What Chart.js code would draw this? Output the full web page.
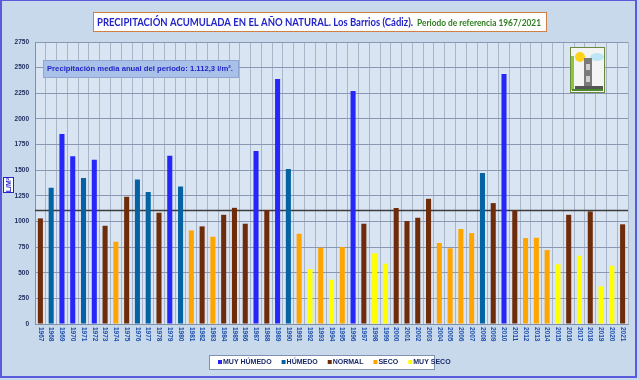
<!DOCTYPE html>
<html>
<head>
<meta charset="utf-8">
<script src="https://cdn.jsdelivr.net/npm/chart.js@4/dist/chart.umd.min.js"></script>
<style>
  html, body { margin: 0; padding: 0; background: #ffffff; }
  #wrap { width: 639px; height: 380px; }
</style>
</head>
<body>
<div id="wrap"><canvas id="chart" width="639" height="380"></canvas></div>
<script>
// años (etiquetas del eje X)
const years = [
  "1967","1968","1969","1970","1971","1972","1973","1974","1975","1976",
  "1977","1978","1979","1980","1981","1982","1983","1984","1985","1986",
  "1987","1988","1989","1990","1991","1992","1993","1994","1995","1996",
  "1997","1998","1999","2000","2001","2002","2003","2004","2005","2006",
  "2007","2008","2009","2010","2011","2012","2013","2014","2015","2016",
  "2017","2018","2019","2020","2021"
];

// precipitación anual en l/m2
const precip = [
  1030, 1329, 1852, 1637, 1423, 1602,  958,  802, 1241, 1410,
  1287, 1085, 1641, 1342,  913,  952,  851, 1065, 1133,  978,
  1686, 1111, 2388, 1511,  880,  536,  744,  432,  750, 2271,
   978,  689,  588, 1131, 1004, 1036, 1221,  790,  738,  926,
   887, 1472, 1179, 2437, 1108,  838,  841,  721,  582, 1065,
   666, 1098,  367,  568,  972
];

// clase de cada año: 0 muy húmedo, 1 húmedo, 2 normal, 3 seco, 4 muy seco
const clase = [
  2, 1, 0, 0, 1, 0, 2, 3, 2, 1,
  1, 2, 0, 1, 3, 2, 3, 2, 2, 2,
  0, 2, 0, 1, 3, 4, 3, 4, 3, 0,
  2, 4, 4, 2, 2, 2, 2, 3, 3, 3,
  3, 1, 2, 0, 2, 3, 3, 3, 4, 2,
  4, 2, 4, 4, 2
];

const classNames = ["MUY HÚMEDO", "HÚMEDO", "NORMAL", "SECO", "MUY SECO"];
const classColors = ["#2626F8", "#0563A3", "#6E2C0A", "#FFA500", "#FFFF00"];

const media = 1112.3;
const yMax = 2750;
const yStep = 250;

const datasets = classNames.map((name, i) => ({
  label: name,
  data: precip.map((v, j) => clase[j] === i ? v : null),
  backgroundColor: classColors[i],
  borderWidth: 0,
  categoryPercentage: 1,
  barPercentage: 0.47
}));

// escribe un texto ajustado a un ancho dado
function textoAncho(ctx, txt, x, y, ancho) {
  const w = ctx.measureText(txt).width;
  ctx.save();
  ctx.translate(x, y);
  ctx.scale(ancho / w, 1);
  ctx.fillText(txt, 0, 0);
  ctx.restore();
}

// fondo, marco y línea de la media
const fondo = {
  id: "fondo",
  beforeDraw(chart) {
    const ctx = chart.ctx;
    const a = chart.chartArea;
    ctx.save();
    ctx.fillStyle = "#C9D9EC";
    ctx.fillRect(0, 0, chart.width, chart.height);
    ctx.fillStyle = "#D9E5F3";
    ctx.fillRect(a.left, a.top, a.right - a.left, a.bottom - a.top);
    ctx.strokeStyle = "#5A5ADC";
    ctx.lineWidth = 2;
    ctx.strokeRect(1, 0, 635, 377);
    ctx.restore();
  },
  beforeDatasetsDraw(chart) {
    const ctx = chart.ctx;
    const a = chart.chartArea;
    const y = Math.round(chart.scales.y.getPixelForValue(media)) + 0.5;
    ctx.save();
    ctx.strokeStyle = "#3C3C3C";
    ctx.lineWidth = 1.3;
    ctx.beginPath();
    ctx.moveTo(a.left, y);
    ctx.lineTo(a.right, y);
    ctx.stroke();
    ctx.restore();
  }
};

// textos, cajas, leyenda y logo
const adornos = {
  id: "adornos",
  afterDraw(chart) {
    const ctx = chart.ctx;
    const a = chart.chartArea;
    const xs = chart.scales.x;
    ctx.save();

    // etiquetas del eje X giradas
    ctx.fillStyle = "#1E4FA8";
    ctx.font = "bold 6.5px 'Liberation Sans', Arial, sans-serif";
    ctx.textAlign = "left";
    ctx.textBaseline = "middle";
    years.forEach((yr, i) => {
      const x = xs.getPixelForValue(i);
      ctx.save();
      ctx.translate(x, a.bottom + 3);
      ctx.rotate(Math.PI / 2);
      ctx.fillText(yr, 0, 0);
      ctx.restore();
    });

    // título
    ctx.fillStyle = "#FFFFFF";
    ctx.fillRect(93, 12, 453, 19);
    ctx.strokeStyle = "#D08040";
    ctx.lineWidth = 1;
    ctx.strokeRect(93.5, 12.5, 453, 19);
    ctx.textBaseline = "middle";
    ctx.fillStyle = "#2424C8";
    ctx.font = "bold 12px Lato, 'Open Sans', sans-serif";
    textoAncho(ctx, "PRECIPITACIÓN ACUMULADA EN EL AÑO NATURAL. Los Barrios (Cádiz).", 97, 22, 316);
    ctx.fillStyle = "#2E7D1E";
    ctx.font = "bold 8.5px Lato, 'Open Sans', sans-serif";
    textoAncho(ctx, "Periodo de referencia 1967/2021", 417, 23, 124);

    // caja de la media
    ctx.fillStyle = "#A9C1E8";
    ctx.fillRect(43, 60, 195, 17);
    ctx.strokeStyle = "#8FA6D0";
    ctx.strokeRect(43.5, 60.5, 195, 17);
    ctx.fillStyle = "#2424C8";
    ctx.font = "bold 8px 'Liberation Sans', Arial, sans-serif";
    textoAncho(ctx, "Precipitación media anual del periodo: 1.112,3 l/m².", 47, 69, 186);

    // título eje Y
    ctx.fillStyle = "#FFFFFF";
    ctx.fillRect(3, 177, 11, 16);
    ctx.strokeStyle = "#2424C8";
    ctx.strokeRect(3.5, 177.5, 10, 15);
    ctx.save();
    ctx.translate(9, 185);
    ctx.rotate(-Math.PI / 2);
    ctx.textAlign = "center";
    ctx.fillStyle = "#2424C8";
    ctx.font = "bold 7px 'Liberation Sans', Arial, sans-serif";
    ctx.fillText("L/M²", 0, 0);
    ctx.restore();

    // leyenda
    ctx.fillStyle = "#FFFFFF";
    ctx.fillRect(209, 355, 225, 14);
    ctx.strokeStyle = "#8090B0";
    ctx.strokeRect(209.5, 355.5, 225, 14);
    ctx.font = "bold 7px 'Liberation Sans', Arial, sans-serif";
    ctx.textAlign = "left";
    let lx = 218;
    classNames.forEach((n, i) => {
      ctx.fillStyle = classColors[i];
      ctx.fillRect(lx, 360, 4, 4);
      ctx.fillStyle = "#1A2A6A";
      ctx.fillText(n, lx + 5, 362.5);
      lx += 5 + ctx.measureText(n).width + 10;
    });

    // logo (aproximado)
    ctx.fillStyle = "#F4F4F4";
    ctx.fillRect(570, 47, 34, 45);
    ctx.strokeStyle = "#6A8A3A";
    ctx.strokeRect(570.5, 47.5, 34, 45);
    ctx.fillStyle = "#8CC63F";
    ctx.fillRect(571, 56, 3, 34);
    ctx.fillStyle = "#BFE6F5";
    ctx.beginPath();
    ctx.ellipse(597, 57, 7, 4, 0, 0, Math.PI * 2);
    ctx.fill();
    ctx.fillStyle = "#FFD21A";
    ctx.beginPath();
    ctx.arc(580, 57, 5, 0, Math.PI * 2);
    ctx.fill();
    ctx.fillStyle = "#7A7A7A";
    ctx.fillRect(584, 58, 8, 30);
    ctx.fillStyle = "#CFCFCF";
    ctx.fillRect(586, 64, 4, 6);
    ctx.fillRect(586, 76, 4, 6);
    ctx.fillStyle = "#555555";
    ctx.fillRect(575, 86, 28, 3);
    ctx.fillStyle = "#4A8A2A";
    ctx.fillRect(572, 89, 31, 2);

    ctx.restore();
  }
};

new Chart(document.getElementById("chart"), {
  type: "bar",
  data: { labels: years, datasets: datasets },
  options: {
    responsive: false,
    animation: false,
    devicePixelRatio: 1,
    layout: { padding: { top: 42, right: 11, left: 0, bottom: 36 } },
    plugins: {
      legend: { display: false },
      tooltip: { enabled: false }
    },
    scales: {
      x: {
        stacked: true,
        grid: { color: "#A9B5C9", lineWidth: 1, offset: true, drawTicks: false },
        border: { color: "#8090A8" },
        ticks: { display: false },
        afterFit(s) { s.height = 20; }
      },
      y: {
        stacked: true,
        min: 0,
        max: yMax,
        grid: { color: "#8A98B4", lineWidth: 1, drawTicks: false },
        border: { color: "#8090A8" },
        ticks: {
          stepSize: yStep,
          padding: 6,
          color: "#1A2A5A",
          font: { family: "'Liberation Sans', Arial, sans-serif", size: 6.5, weight: "bold" },
          callback: v => String(v)
        },
        afterFit(s) { s.width = 35; }
      }
    }
  },
  plugins: [fondo, adornos]
});
</script>
</body>
</html>
